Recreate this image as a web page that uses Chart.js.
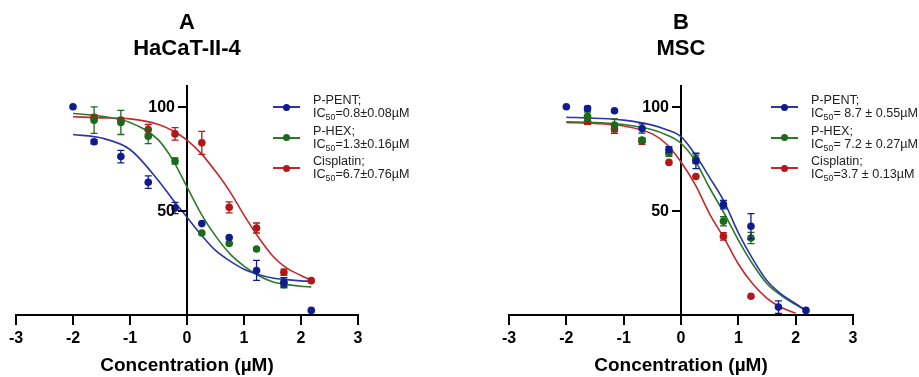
<!DOCTYPE html>
<html>
<head>
<meta charset="utf-8">
<script src="https://cdn.jsdelivr.net/npm/chart.js@4.4.1/dist/chart.umd.min.js"></script>
<style>
  body { margin: 0; background: #fff; }
  #wrap { position: relative; width: 919px; height: 377px; overflow: hidden; font-family: "Liberation Sans", Arial, sans-serif; }
  canvas { position: absolute; top: 0; }
  .ttl { position: absolute; width: 200px; margin-left: -100px; text-align: center; font-weight: bold; font-size: 22px; line-height: 24px; color: #000; }
  .leg { position: absolute; font-size: 12.6px; line-height: 13px; color: #222; white-space: nowrap; }
  .leg sub { font-size: 8.8px; vertical-align: -3px; line-height: 0; }
  .mk { position: absolute; height: 2px; width: 27px; }
  .dot { position: absolute; width: 7px; height: 7px; border-radius: 50%; }
</style>
</head>
<body>
<div id="wrap">
  <canvas id="chartA" width="460" height="377" style="left:0"></canvas>
  <canvas id="chartB" width="459" height="377" style="left:460px"></canvas>
  <div class="ttl" style="left:187px;top:10px">A</div>
  <div class="ttl" style="left:187px;top:36px">HaCaT-II-4</div>
  <div class="ttl" style="left:681px;top:10px">B</div>
  <div class="ttl" style="left:681px;top:36px">MSC</div>
</div>
<script>
// log10 concentration (µM) of the measured points
const xConc = [-2.0, -1.63, -1.16, -0.68, -0.21, 0.26, 0.74, 1.22, 1.70, 2.18];
const yTicks = [50, 100];

// panel A - HaCaT-II-4, % viability
const aPent = [100, 83.2, 76.1, 63.8, 51.4, 43.9, 37.2, 21.4, 15.7, 2.2];
const aPentErr = [0, 1, 3, 3, 2.7, 0, 0, 4.8, 2.2, 0];
const aHex = [null, 93.6, 92.5, 85.9, 74.0, 39.4, 34.4, 31.7, 14.6, null];
const aHexErr = [0, 6.4, 5.8, 3.6, 1.5, 0, 0, 0, 1.5, 0];
const aCis = [null, 95.0, 93.6, 89.1, 87.0, 82.7, 51.7, 41.8, 20.5, 16.5];
const aCisErr = [0, 1, 1, 2.4, 3, 5.5, 2.6, 2.4, 1.5, 0];

// panel B - MSC
const bPent = [100, 99.2, 98.1, 89.6, 79.5, 74.0, 53.0, 42.6, 3.8, 2.2];
const bPentErr = [0, 1, 0.5, 2.2, 1.4, 3.7, 2, 6.1, 3, 0];
const bHex = [null, 95.5, 91.2, 84.0, 77.7, 74.8, 45.0, 37.0, null, null];
const bHexErr = [0, 2, 3, 1, 1.5, 2, 2.2, 2.7, 0, 0];
const bCis = [null, 93.1, 89.3, 83.5, 73.3, 66.5, 37.8, 9.0, null, null];
const bCisErr = [0, 1.5, 2, 1.5, 0, 0, 1.8, 0, 0, 0];

// fitted curves
const curveX = [-2, -1.5, -1, -0.5, -0.25, 0, 0.25, 0.5, 0.75, 1, 1.25, 1.5, 1.75, 2, 2.18];
const aPentFit = [86.7, 85.0, 79.5, 64.5, 55.5, 47.0, 38.5, 31.0, 26.0, 22.0, 19.5, 17.8, 17.0, 16.4, 16.2];
const aHexFit = [96.8, 95.5, 92.5, 84.0, 74.5, 61.5, 48.5, 38.0, 29.5, 23.5, 19.0, 16.0, 14.6, 13.8, 13.5];
const aCisFit = [95.2, 94.7, 94.2, 91.5, 88.5, 84.0, 77.5, 69.0, 59.4, 48.0, 37.5, 28.5, 22.5, 19.0, 16.6];
const bPentFit = [95.0, 94.5, 93.6, 91.2, 89.0, 85.7, 77.0, 66.0, 54.6, 39.5, 27.0, 16.5, 10.0, 5.4, 2.2];
const bHexFit = [92.8, 92.5, 91.5, 89.0, 86.5, 82.5, 74.0, 61.0, 49.0, 36.0, 24.5, 15.0, 9.3, 5.0, 2.2];
const bCisX = [-2, -1.5, -1, -0.5, -0.25, 0, 0.25, 0.5, 0.75, 1, 1.25, 1.5, 1.75, 2];
const bCisFit = [92.5, 92.0, 90.8, 87.0, 82.0, 73.5, 62.5, 48.5, 37.0, 24.5, 15.0, 8.0, 3.6, 0.8];

const names = ['P-PENT;', 'P-HEX;', 'Cisplatin;'];
const icA = ['=0.8±0.08µM', '=1.3±0.16µM', '=6.7±0.76µM'];
const icB = ['= 8.7 ± 0.55µM', '= 7.2 ± 0.27µM', '=3.7 ± 0.13µM'];

const dotColors = ['#111c8c', '#1c6a1c', '#b21818'];
const lineColors = ['#2a36a8', '#2a7a2a', '#c42828'];
const FONT = '"Liberation Sans", Arial, sans-serif';

// error bars drawn with the chart's own scales
const errorBars = {
    id: 'errorBars',
    afterDatasetDraw(chart, args) {
        const ds = chart.data.datasets[args.index];
        if (!ds.errors) return;
        const ctx = chart.ctx;
        const xs = chart.scales.x, ys = chart.scales.y;
        ctx.save();
        ctx.strokeStyle = ds.backgroundColor;
        ctx.lineWidth = 1.3;
        ds.data.forEach((p, j) => {
            const e = ds.errors[j];
            if (!e) return;
            const px = xs.getPixelForValue(p.x);
            const y1 = ys.getPixelForValue(p.y + e);
            const y2 = ys.getPixelForValue(p.y - e);
            ctx.beginPath();
            ctx.moveTo(px, y1); ctx.lineTo(px, y2);
            ctx.moveTo(px - 3.5, y1); ctx.lineTo(px + 3.5, y1);
            ctx.moveTo(px - 3.5, y2); ctx.lineTo(px + 3.5, y2);
            ctx.stroke();
        });
        ctx.restore();
    }
};

// y ticks + labels sit on the axis drawn at x = 0
const midAxisTicks = {
    id: 'midAxisTicks',
    afterDraw(chart) {
        const ctx = chart.ctx;
        const ax = chart.scales.x.getPixelForValue(0);
        const ys = chart.scales.y;
        ctx.save();
        ctx.strokeStyle = '#000';
        ctx.lineWidth = 2;
        ctx.fillStyle = '#000';
        ctx.font = 'bold 16px ' + FONT;
        ctx.textAlign = 'right';
        ctx.textBaseline = 'middle';
        yTicks.forEach(v => {
            const py = Math.round(ys.getPixelForValue(v));
            ctx.beginPath();
            ctx.moveTo(ax - 9, py);
            ctx.lineTo(ax, py);
            ctx.stroke();
            ctx.fillText(String(v), ax - 12, py + 1);
        });
        ctx.restore();
    }
};

function points(ys, errs, color) {
    const data = [], err = [];
    xConc.forEach((x, i) => {
        if (ys[i] == null) return;
        data.push({ x: x, y: ys[i] });
        err.push(errs[i]);
    });
    return {
        data: data, errors: err,
        backgroundColor: color, borderColor: color,
        pointRadius: 3.8, pointHoverRadius: 3.8, pointBorderWidth: 0,
        showLine: false, clip: false
    };
}

function curve(xs, ys, color) {
    return {
        data: xs.map((x, i) => ({ x: x, y: ys[i] })),
        borderColor: color, backgroundColor: color, borderWidth: 1.6,
        showLine: true, pointRadius: 0, pointHoverRadius: 0,
        cubicInterpolationMode: 'monotone', clip: false
    };
}

function makeChart(id, sets, padLeft, padRight) {
    return new Chart(document.getElementById(id), {
        type: 'scatter',
        data: { datasets: sets },
        plugins: [errorBars, midAxisTicks],
        options: {
            responsive: false,
            animation: false,
            events: [],
            layout: { padding: { left: padLeft, right: padRight, top: 86, bottom: 0 } },
            plugins: { legend: { display: false }, tooltip: { enabled: false } },
            scales: {
                x: {
                    type: 'linear', min: -3, max: 3,
                    ticks: { stepSize: 1, color: '#000', padding: 4, font: { family: FONT, size: 16, weight: 'bold' } },
                    grid: { drawOnChartArea: false, drawTicks: true, tickLength: 10, color: '#000', lineWidth: 2 },
                    border: { color: '#000', width: 2 },
                    title: { display: true, text: 'Concentration (µM)', color: '#000', padding: { top: 0, bottom: 0 },
                             font: { family: FONT, size: 19, weight: 'bold' } },
                    afterFit(s) { s.height = 62; }
                },
                y: {
                    type: 'linear', min: 0, max: 110,
                    position: { x: 0 },
                    afterBuildTicks(s) { s.ticks = yTicks.map(v => ({ value: v })); },
                    ticks: { display: false },
                    grid: { display: false },
                    border: { display: true, color: '#000', width: 2 }
                }
            }
        }
    });
}

makeChart('chartA', [
    points(aPent, aPentErr, dotColors[0]),
    points(aHex, aHexErr, dotColors[1]),
    points(aCis, aCisErr, dotColors[2]),
    curve(curveX, aPentFit, lineColors[0]),
    curve(curveX, aHexFit, lineColors[1]),
    curve(curveX, aCisFit, lineColors[2])
], 16, 102);

makeChart('chartB', [
    points(bPent, bPentErr, dotColors[0]),
    points(bHex, bHexErr, dotColors[1]),
    points(bCis, bCisErr, dotColors[2]),
    curve(curveX, bPentFit, lineColors[0]),
    curve(curveX, bHexFit, lineColors[1]),
    curve(bCisX, bCisFit, lineColors[2])
], 49, 66);

// legends (html, so the subscript stays real text)
function legend(lineLeft, textLeft, ics) {
    const wrap = document.getElementById('wrap');
    const rows = [107.3, 137.8, 168.3];
    names.forEach((n, i) => {
        const y = rows[i];
        const mk = document.createElement('div');
        mk.className = 'mk';
        mk.style.cssText = `left:${lineLeft}px;top:${y - 1}px;background:${lineColors[i]}`;
        wrap.appendChild(mk);
        const d = document.createElement('div');
        d.className = 'dot';
        d.style.cssText = `left:${lineLeft + 10}px;top:${y - 3.5}px;background:${dotColors[i]}`;
        wrap.appendChild(d);
        const t1 = document.createElement('div');
        t1.className = 'leg';
        t1.style.cssText = `left:${textLeft}px;top:${y - 6.5 - 6.4}px`;
        t1.textContent = n;
        wrap.appendChild(t1);
        const t2 = document.createElement('div');
        t2.className = 'leg';
        t2.style.cssText = `left:${textLeft}px;top:${y + 6.5 - 6.4}px`;
        t2.innerHTML = 'IC<sub>50</sub>' + ics[i];
        wrap.appendChild(t2);
    });
}
legend(273, 313, icA);
legend(771, 811, icB);
</script>
</body>
</html>
